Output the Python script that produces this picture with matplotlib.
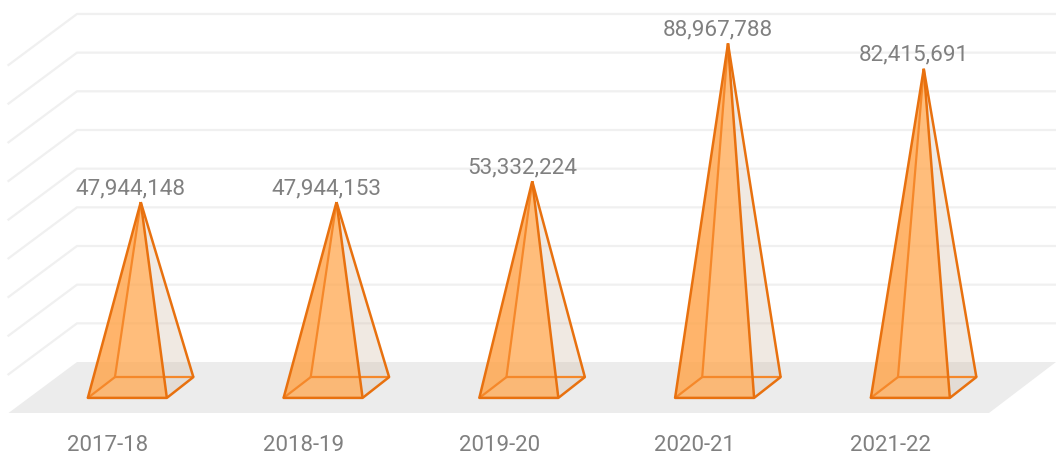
import matplotlib
matplotlib.use("Agg")
import matplotlib.pyplot as plt
from matplotlib.patches import Polygon

categories = ["2017-18", "2018-19", "2019-20", "2020-21", "2021-22"]
values = [47944148, 47944153, 53332224, 88967788, 82415691]
gridlines = [m * 10_000_000 for m in range(10)]

W, H = 1056, 457
PX_X = 195.75
X0 = 140.75
PX_Y = 38.67 / 10_000_000
Y0 = 387.5

plt.rcParams["font.family"] = ["Roboto", "DejaVu Sans"]
fig = plt.figure(figsize=(W / 100, H / 100), dpi=100, facecolor="white")
ax = fig.add_axes([0, 0, 1, 1])
ax.set_xlim(-X0 / PX_X, (W - X0) / PX_X)
ax.set_ylim((Y0 - H) / PX_Y, Y0 / PX_Y)
ax.axis("off")

def ox(px):
    return px / PX_X

def oy(px):
    return px / PX_Y

ORANGE = "#e8710f"
LW = 1.6

wl = (77 - X0) / PX_X
wr = (1056 - X0) / PX_X
depth_x = ox(68.5)
back = oy(25.5)
front = -oy(25.5)
ax.add_patch(Polygon([(wl, back), (wr, back), (wr - ox(67), front), (wl - depth_x, front)],
                     closed=True, fc="#ececec", ec="none", zorder=1))
for g in gridlines[1:]:
    ax.plot([wl - depth_x, wl, wr], [g + front, g + back, g + back],
            color="#f0f0f0", lw=1.6, zorder=2, solid_joinstyle="miter")

hw_f, hw_b = ox(39.5), ox(39.2)
sk = ox(13.4)
dz = oy(10.4)
for i, (c, v) in enumerate(zip(categories, values)):
    fl = (i - hw_f - sk, -dz)
    fr = (i + hw_f - sk, -dz)
    bl = (i - hw_b + sk, dz)
    br = (i + hw_b + sk, dz)
    apex = (i, v)
    ax.add_patch(Polygon([fr, br, apex], closed=True, fc="#d3bba6", alpha=0.32, ec="none", zorder=3))
    ax.add_patch(Polygon([fl, bl, apex], closed=True, fc="#ffa64d", alpha=0.35, ec="none", zorder=4))
    ax.add_patch(Polygon([fl, fr, apex], closed=True, fc="#ffa64d", alpha=0.74, ec="none", zorder=4))
    for a, b in [(bl, br), (bl, apex), (fl, bl)]:
        ax.plot([a[0], b[0]], [a[1], b[1]], color="#f5882a", lw=LW, zorder=5, solid_capstyle="butt")
    ax.plot([fl[0], fr[0], br[0]], [fl[1], fr[1], br[1]], color=ORANGE, lw=LW + 0.2,
            zorder=6, solid_capstyle="round", solid_joinstyle="round")
    for a, b in [(br, apex), (fl, apex), (fr, apex)]:
        ax.plot([a[0], b[0]], [a[1], b[1]], color=ORANGE, lw=LW + 0.2, zorder=6, solid_capstyle="butt")
    ax.annotate(f"{v:,}", (i, v), xytext=(-7.2, 2.2), textcoords="offset points",
                ha="center", va="bottom", fontsize=16.2, color="#808080", zorder=7)
    ax.annotate(c, (i - sk, front), xytext=(-14.2, -15.6), textcoords="offset points",
                ha="center", va="top", fontsize=16, color="#808080", zorder=7)

fig.savefig("out.png", dpi=100, facecolor="white")
